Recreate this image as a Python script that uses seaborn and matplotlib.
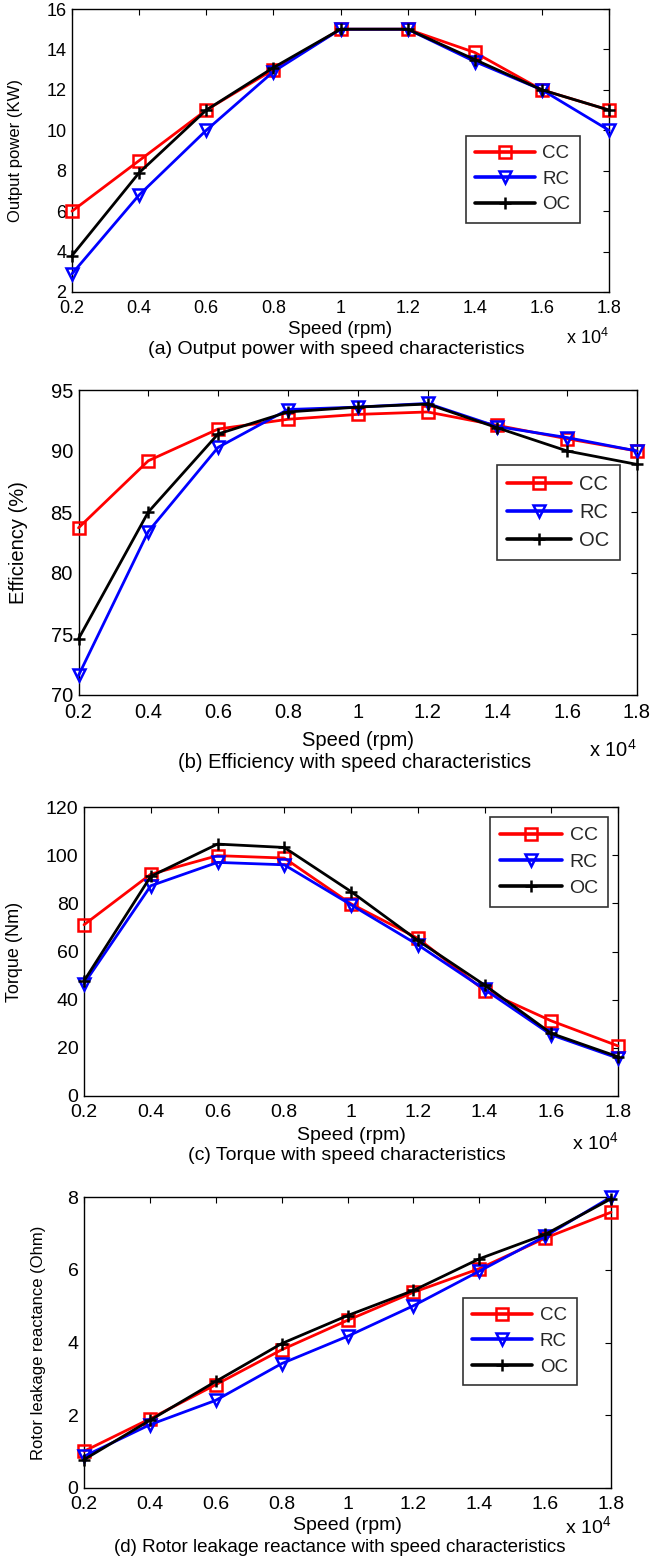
import numpy as np
import pandas as pd
import matplotlib
matplotlib.use("Agg")
import matplotlib.pyplot as plt
import seaborn as sns

sns.set_theme(style="white")
plt.rcParams['font.family'] = ['Liberation Sans', 'DejaVu Sans']
plt.rcParams['mathtext.fontset'] = 'custom'
plt.rcParams['mathtext.rm'] = 'Liberation Sans'

# ---------------- data ----------------
speed = [2000, 4000, 6000, 8000, 10000, 12000, 14000, 16000, 18000]
xtick_labels = ['0.2', '0.4', '0.6', '0.8', '1', '1.2', '1.4', '1.6', '1.8']
series_names = ['CC', 'RC', 'OC']

power_cc = [6.0, 8.5, 11.0, 13.0, 15.0, 15.0, 13.85, 12.0, 11.0]
power_rc = [2.9, 6.8, 10.0, 12.9, 15.0, 15.0, 13.4, 12.0, 10.0]
power_oc = [3.8, 7.9, 11.0, 13.1, 15.0, 15.0, 13.5, 12.0, 11.0]

eff_cc = [83.7, 89.2, 91.8, 92.6, 93.0, 93.2, 92.1, 91.0, 90.0]
eff_rc = [71.6, 83.4, 90.3, 93.4, 93.6, 93.9, 92.0, 91.1, 90.0]
eff_oc = [74.6, 85.0, 91.4, 93.2, 93.6, 93.85, 91.9, 90.0, 88.9]

torque_cc = [71.1, 92.1, 99.8, 98.8, 79.8, 65.5, 43.8, 31.2, 20.8]
torque_rc = [46.6, 87.3, 97.0, 96.0, 79.4, 62.8, 44.3, 25.4, 15.7]
torque_oc = [47.8, 91.2, 104.6, 103.2, 84.9, 64.6, 46.1, 26.0, 16.3]

react_cc = [1.01, 1.90, 2.84, 3.80, 4.61, 5.38, 6.03, 6.87, 7.58]
react_rc = [0.87, 1.74, 2.41, 3.42, 4.17, 5.01, 5.96, 6.92, 8.00]
react_oc = [0.78, 1.86, 2.93, 3.97, 4.74, 5.43, 6.30, 6.97, 7.95]

panels = [
    dict(vals=[power_cc, power_rc, power_oc], ylabel='Output power (KW)',
         yticks=[2, 4, 6, 8, 10, 12, 14, 16], ylim=(2, 16),
         caption='(a) Output power with speed characteristics'),
    dict(vals=[eff_cc, eff_rc, eff_oc], ylabel='Efficiency (%)',
         yticks=[70, 75, 80, 85, 90, 95], ylim=(70, 95),
         caption='(b) Efficiency with speed characteristics'),
    dict(vals=[torque_cc, torque_rc, torque_oc], ylabel='Torque (Nm)',
         yticks=[0, 20, 40, 60, 80, 100, 120], ylim=(0, 120),
         caption='(c) Torque with speed characteristics'),
    dict(vals=[react_cc, react_rc, react_oc], ylabel='Rotor leakage reactance (Ohm)',
         yticks=[0, 2, 4, 6, 8], ylim=(0, 8),
         caption='(d) Rotor leakage reactance with speed characteristics'),
]

# ---------------- layout / style ----------------
W, H = 658, 1557
colors = {'CC': '#ff0000', 'RC': '#0000ff', 'OC': '#000000'}
markers = {'CC': 's', 'RC': 'v', 'OC': '+'}

# axes boxes in pixels: left, top, right, bottom
boxes = [(72, 9, 609, 292), (78.5, 390, 637, 695), (84, 807, 618, 1096), (84, 1197, 611, 1488)]
legend_anchor = [(0.733, 0.552), (0.749, 0.754), (0.760, 0.965), (0.719, 0.653)]
ylabel_x = [-0.091, -0.090, -0.114, -0.072]
xlabel_off = [38, 45, 40, 38]      # px below axes bottom (center)
caption_pos = [(336, 350), (355, 763), (347, 1156), (340, 1547)]
x104_pos = [338, 750, 1143, 1527]
fs_tick = [13, 14.5, 14, 14]
fs_xlabel = [13.5, 14.5, 14, 14]
fs_ylabel = [12, 14.5, 13, 12]
fs_leg = [13.5, 14.5, 14, 13.5]
fs_cap = [14, 14.5, 14, 13.5]

fig = plt.figure(figsize=(W / 100, H / 100), dpi=100)
fig.patch.set_facecolor('white')

for i, p in enumerate(panels):
    l, t, r, b = boxes[i]
    ax = fig.add_axes([l / W, 1 - b / H, (r - l) / W, (b - t) / H])
    rows = []
    for name, v in zip(series_names, p['vals']):
        for s, y in zip(speed, v):
            rows.append({'speed': s, 'value': y, 'series': name})
    df = pd.DataFrame(rows)
    for name in series_names:
        sub = df[df['series'] == name]
        sns.lineplot(data=sub, x='speed', y='value', ax=ax, color=colors[name],
                     marker=markers[name], markersize=8.5, markerfacecolor='none',
                     markeredgecolor=colors[name], markeredgewidth=1.8,
                     linewidth=2.0, label=name, legend=True, sort=False,
                     clip_on=False, zorder=3)
    ax.set_xlim(2000, 18000)
    ax.set_ylim(*p['ylim'])
    ax.set_xticks(speed)
    ax.set_xticklabels(xtick_labels)
    ax.set_yticks(p['yticks'])
    ax.set_yticklabels([str(v) for v in p['yticks']])
    ax.tick_params(direction='in', top=True, right=True, length=4, width=0.8,
                   colors='black', labelsize=fs_tick[i])
    ax.tick_params(axis='x', pad=6)
    ax.tick_params(axis='y', pad=4)
    for sp in ax.spines.values():
        sp.set_color('black')
        sp.set_linewidth(1.0)
    ax.set_ylabel(p['ylabel'], fontsize=fs_ylabel[i], color='black')
    ax.yaxis.set_label_coords(ylabel_x[i], 0.5)
    ax.set_xlabel('Speed (rpm)', fontsize=fs_xlabel[i], color='black')
    ax.xaxis.label.set_va('center')
    ax.xaxis.set_label_coords(0.5, -xlabel_off[i] / (b - t))
    leg = ax.legend(loc='upper left', bbox_to_anchor=legend_anchor[i],
                    fontsize=fs_leg[i], frameon=True, fancybox=False,
                    handlelength=3.2, handletextpad=0.4, borderpad=0.5,
                    labelspacing=0.45, borderaxespad=0)
    leg.get_frame().set_edgecolor('black')
    leg.get_frame().set_linewidth(1.2)
    leg.set_zorder(5)
    for h in leg.get_lines():
        h.set_linewidth(2.6)
    # offset label and caption
    fig.text(r / W, 1 - x104_pos[i] / H, r'x 10$^{4}$', ha='right', va='center',
             fontsize=fs_tick[i], color='black')
    cx, cy = caption_pos[i]
    fig.text(cx / W, 1 - cy / H, p['caption'], ha='center', va='center',
             fontsize=fs_cap[i], color='black')

fig.savefig('out.png', dpi=100, facecolor='white')
